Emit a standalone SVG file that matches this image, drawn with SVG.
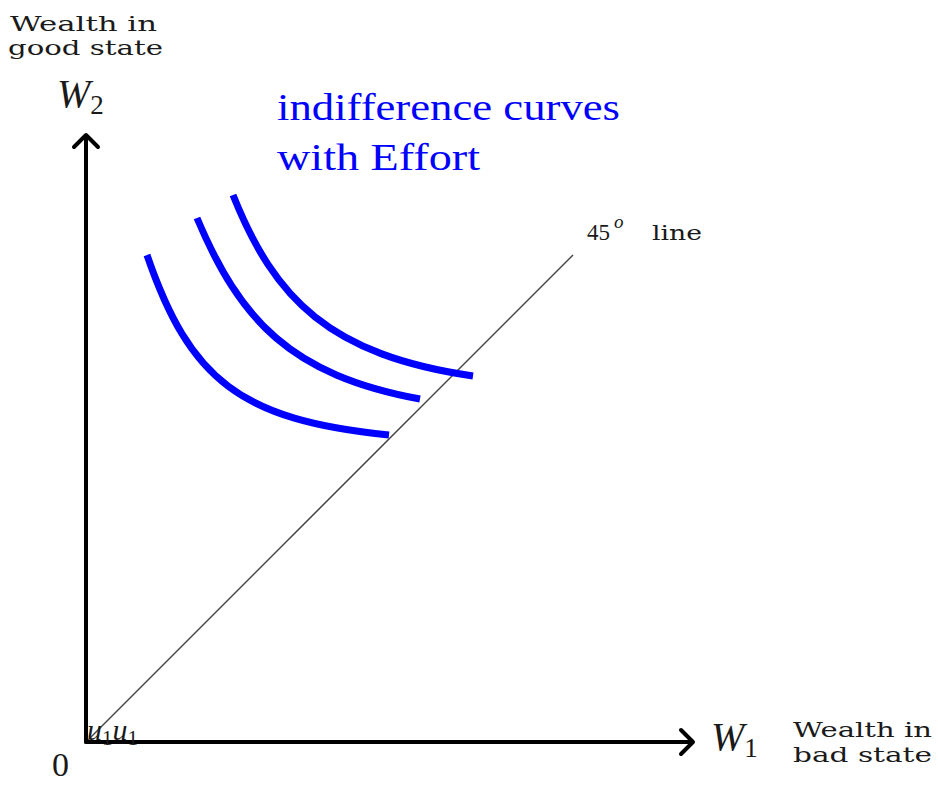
<svg xmlns="http://www.w3.org/2000/svg" width="938" height="786" viewBox="0 0 938 786">
<style>
.axis{fill:none;stroke:#000;stroke-width:4;stroke-linejoin:round;stroke-linecap:round}
.head{fill:none;stroke:#000;stroke-width:4;stroke-linecap:round;stroke-linejoin:round}
.ic{fill:none;stroke:#0000ff;stroke-width:7}
.t{font-family:"Liberation Serif","DejaVu Serif",serif;fill:#1a1a1a}
.sm{font-family:"DejaVu Serif","Liberation Serif",serif;font-size:21px;fill:#1a1a1a}
.it{font-style:italic}
.blue{font-family:"Liberation Serif","DejaVu Serif",serif;font-size:38px;fill:#0000ff}
</style>
<rect width="938" height="786" fill="#fff"/>
<g id="connectors">
<line x1="86" y1="742" x2="573" y2="255" stroke="#444" stroke-width="1.5"/>
<line class="axis" x1="86" y1="742" x2="86" y2="136"/>
<line class="axis" x1="86" y1="742" x2="690" y2="742"/>
<polyline class="head" points="74,147 86,135 98,147"/>
<polyline class="head" points="681,730 693,742 681,754"/>
</g>
<g id="curves">
<path class="ic" d="M147,255 C190,380 240,420 389,435"/>
<path class="ic" d="M197,218 C240,320 290,375 420,399"/>
<path class="ic" d="M233,195 C275,300 330,355 473,376"/>
</g>
<g id="ylabel">
<text class="sm" x="10" y="31" textLength="147" lengthAdjust="spacingAndGlyphs">Wealth in</text>
<text class="sm" x="8" y="55" textLength="155" lengthAdjust="spacingAndGlyphs">good state</text>
<text class="t it" x="57" y="107" font-size="40">W<tspan font-size="27" font-style="normal" dy="7">2</tspan></text>
</g>
<g id="xlabel">
<text class="t it" x="711" y="750" font-size="40">W<tspan font-size="27" font-style="normal" dy="7">1</tspan></text>
<text class="sm" x="793" y="737" textLength="139" lengthAdjust="spacingAndGlyphs">Wealth in</text>
<text class="sm" x="793" y="762" textLength="139" lengthAdjust="spacingAndGlyphs">bad state</text>
</g>
<g id="origin">
<text class="t" x="52" y="776" font-size="34">0</text>
<text class="t it" x="87" y="740" font-size="30">u<tspan font-style="normal" font-size="21" dy="5">1</tspan><tspan dy="-5">u</tspan><tspan font-style="normal" font-size="21" dy="5">1</tspan></text>
</g>
<g id="line45">
<text class="t" x="587" y="240" font-size="23">45</text>
<text class="t it" x="614" y="228" font-size="19">o</text>
<text class="sm" x="652" y="240" textLength="50" lengthAdjust="spacingAndGlyphs">line</text>
</g>
<g id="legend">
<text class="blue" x="277" y="120" textLength="343" lengthAdjust="spacingAndGlyphs">indifference curves</text>
<text class="blue" x="277" y="170" textLength="203" lengthAdjust="spacingAndGlyphs">with Effort</text>
</g>
</svg>
